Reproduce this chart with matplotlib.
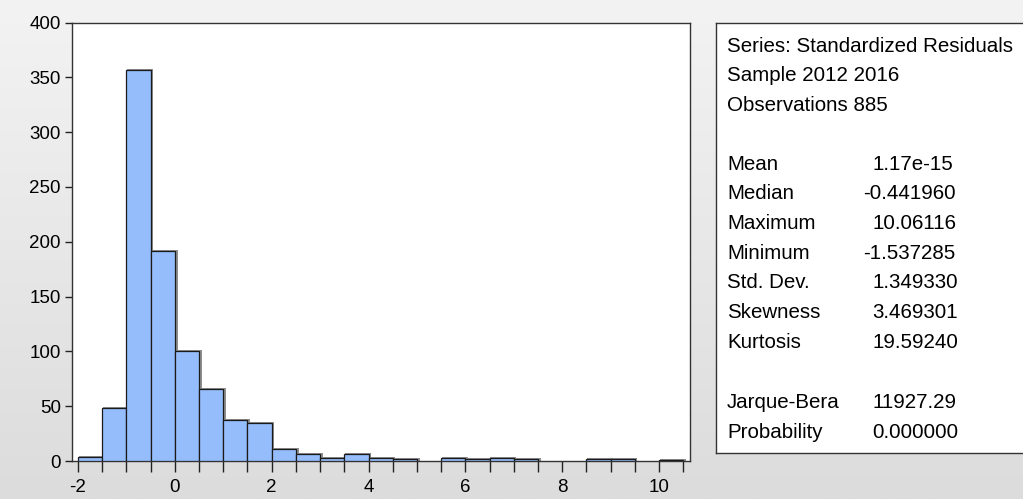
import numpy as np
import matplotlib
matplotlib.use("Agg")
import matplotlib.pyplot as plt
from matplotlib.colors import LinearSegmentedColormap

# Data
bin_edges_left = [-2.0, -1.5, -1.0, -0.5, 0.0, 0.5, 1.0, 1.5, 2.0, 2.5, 3.0, 3.5,
                  4.0, 4.5, 5.0, 5.5, 6.0, 6.5, 7.0, 7.5, 8.0, 8.5, 9.0, 9.5, 10.0]
counts = [4, 48, 357, 192, 100, 66, 37, 35, 11, 6, 3, 6,
          3, 2, 0, 3, 2, 3, 2, 0, 0, 2, 2, 0, 1]
bin_width = 0.5
x_ticks = [-2, 0, 2, 4, 6, 8, 10]
y_ticks = [0, 50, 100, 150, 200, 250, 300, 350, 400]

header_lines = ["Series: Standardized Residuals", "Sample 2012 2016", "Observations 885"]
stat_names = ["Mean", "Median", "Maximum", "Minimum", "Std. Dev.", "Skewness", "Kurtosis"]
stat_values = ["1.17e-15", "-0.441960", "10.06116", "-1.537285", "1.349330", "3.469301", "19.59240"]
test_names = ["Jarque-Bera", "Probability"]
test_values = ["11927.29", "0.000000"]

plt.rcParams['font.family'] = ['Liberation Sans', 'DejaVu Sans']
plt.rcParams['axes.unicode_minus'] = False

W, H = 1023, 499
fig = plt.figure(figsize=(W / 100, H / 100), dpi=100)

# background gradient
bg = fig.add_axes([0, 0, 1, 1], zorder=-10)
grad = np.linspace(0, 1, 256).reshape(-1, 1)
cm = LinearSegmentedColormap.from_list("g", ["#f3f3f3", "#dcdcdc"])
bg.imshow(grad, aspect='auto', cmap=cm, extent=[0, 1, 0, 1])
bg.set_axis_off()

def px(x0, y0, x1, y1):
    return [x0 / W, 1 - y1 / H, (x1 - x0) / W, (y1 - y0) / H]

ax = fig.add_axes(px(72, 22.5, 690, 461))
ax.set_facecolor("white")
lefts = np.array(bin_edges_left)
cnts = np.array(counts)
nz = cnts > 0
# shadow
ax.bar(lefts[nz] + 0.035, cnts[nz], width=bin_width, align='edge',
       color='none', edgecolor='#8c8c8c', linewidth=1.4, zorder=2)
ax.bar(lefts[nz], cnts[nz], width=bin_width, align='edge',
       color='#95bdfb', edgecolor='#1a1a1a', linewidth=0.9, zorder=3)
ax.set_xlim(-2.124, 10.64)
ax.set_ylim(0, 400)
ax.set_xticks(x_ticks)
ax.set_xticks(np.arange(-2, 10.51, 0.5), minor=True)
ax.set_yticks(y_ticks)
ax.tick_params(axis='x', which='both', direction='out', length=8, width=1, colors='#222222',
               labelsize=13.5, pad=5, labelcolor='black')
ax.tick_params(axis='y', which='both', direction='out', length=5, width=1, colors='#222222',
               labelsize=13.5, pad=3, labelcolor='black')
for s in ax.spines.values():
    s.set_color('#333333')
    s.set_linewidth(1)

# stats box
box = fig.add_axes(px(716, 23, 1030, 453))
box.set_xlim(0, 1)
box.set_ylim(0, 1)
box.set_xticks([])
box.set_yticks([])
box.set_facecolor('white')
for s in box.spines.values():
    s.set_color('#333333')
    s.set_linewidth(1)

fs = 14.8
def t(x, y, s, ha='left'):
    fig.text(x / W, 1 - y / H, s, fontsize=fs, ha=ha, va='center', color='black')

y = 46
for line in header_lines:
    t(727, y, line)
    y += 29.7
y = 164
for n, v in zip(stat_names, stat_values):
    t(727, y, n)
    t(872 if not v.startswith('-') else 863, y, v)
    y += 29.7
y = 403
for n, v in zip(test_names, test_values):
    t(727, y, n)
    t(872, y, v)
    y += 29.7

fig.savefig("out.png", dpi=100)
